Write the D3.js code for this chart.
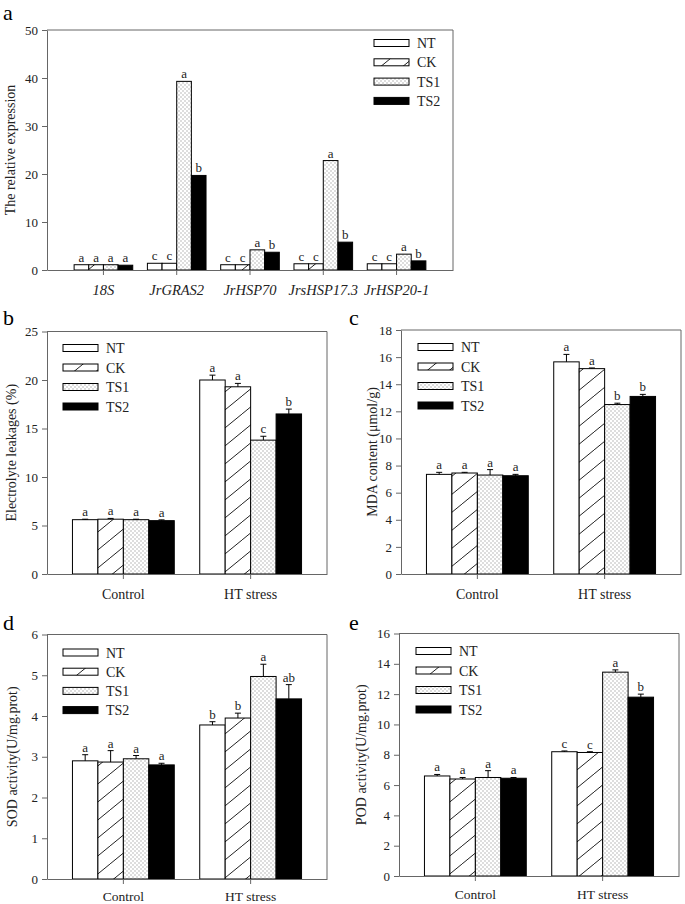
<!DOCTYPE html>
<html><head><meta charset="utf-8">
<script src="https://cdn.jsdelivr.net/npm/d3@7"></script>
<style>body{margin:0;background:#fff} svg{display:block}</style>
</head><body>
<svg id="chart" width="685" height="904"></svg>
<script>
// ---------- data ----------
const treatments = ["NT", "CK", "TS1", "TS2"];
const genes = ["18S", "JrGRAS2", "JrHSP70", "JrsHSP17.3", "JrHSP20-1"];
const conditions = ["Control", "HT stress"];

// a: relative expression
const exprNT  = [1.1, 1.4, 1.1, 1.3, 1.3];
const exprCK  = [1.1, 1.4, 1.1, 1.3, 1.3];
const exprTS1 = [1.1, 39.3, 4.2, 22.8, 3.3];
const exprTS2 = [1.0, 19.7, 3.7, 5.8, 1.9];
const exprLetNT  = ["a", "c", "c", "c", "c"];
const exprLetCK  = ["a", "c", "c", "c", "c"];
const exprLetTS1 = ["a", "a", "a", "a", "a"];
const exprLetTS2 = ["a", "b", "b", "b", "b"];

// b: electrolyte leakage
const elNT  = [5.6, 20.0], elNTErr  = [0.05, 0.5];
const elCK  = [5.65, 19.3], elCKErr = [0.08, 0.35];
const elTS1 = [5.6, 13.8], elTS1Err = [0.05, 0.4];
const elTS2 = [5.5, 16.5], elTS2Err = [0.08, 0.5];
const elLetNT = ["a", "a"], elLetCK = ["a", "a"], elLetTS1 = ["a", "c"], elLetTS2 = ["a", "b"];

// c: MDA content
const mdaNT  = [7.35, 15.65], mdaNTErr  = [0.15, 0.55];
const mdaCK  = [7.45, 15.15], mdaCKErr  = [0.05, 0.05];
const mdaTS1 = [7.3, 12.5],   mdaTS1Err = [0.4, 0.1];
const mdaTS2 = [7.25, 13.1],  mdaTS2Err = [0.1, 0.15];
const mdaLetNT = ["a", "a"], mdaLetCK = ["a", "a"], mdaLetTS1 = ["a", "b"], mdaLetTS2 = ["a", "b"];

// d: SOD activity
const sodNT  = [2.9, 3.78],  sodNTErr  = [0.15, 0.08];
const sodCK  = [2.87, 3.95], sodCKErr  = [0.28, 0.12];
const sodTS1 = [2.95, 4.97], sodTS1Err = [0.08, 0.3];
const sodTS2 = [2.8, 4.42],  sodTS2Err = [0.04, 0.35];
const sodLetNT = ["a", "b"], sodLetCK = ["a", "b"], sodLetTS1 = ["a", "a"], sodLetTS2 = ["a", "ab"];

// e: POD activity
const podNT  = [6.6, 8.2],   podNTErr  = [0.1, 0.05];
const podCK  = [6.4, 8.15],  podCKErr  = [0.1, 0.05];
const podTS1 = [6.5, 13.45], podTS1Err = [0.45, 0.15];
const podTS2 = [6.45, 11.8], podTS2Err = [0.05, 0.2];
const podLetNT = ["a", "c"], podLetCK = ["a", "c"], podLetTS1 = ["a", "a"], podLetTS2 = ["a", "b"];

// ---------- drawing ----------
const svg = d3.select("#chart");
const defs = svg.append("defs");
const serif = "'Liberation Serif','Times New Roman',serif";
const axisCol = "#666";
const textCol = "#222";

const hatch = defs.append("pattern").attr("id", "hatch")
  .attr("patternUnits", "userSpaceOnUse").attr("width", 22).attr("height", 18);
hatch.append("rect").attr("width", 22).attr("height", 18).attr("fill", "#fff");
hatch.append("path").attr("d", "M-11,27L33,-9").attr("stroke", "#222").attr("stroke-width", 1);

const dots = defs.append("pattern").attr("id", "dots")
  .attr("patternUnits", "userSpaceOnUse").attr("width", 4).attr("height", 4);
dots.append("rect").attr("width", 4).attr("height", 4).attr("fill", "#fff");
dots.append("rect").attr("x", 0.5).attr("y", 0.5).attr("width", 1).attr("height", 1).attr("fill", "#777");
dots.append("rect").attr("x", 2.5).attr("y", 2.5).attr("width", 1).attr("height", 1).attr("fill", "#777");

const fills = {NT: "#fff", CK: "url(#hatch)", TS1: "url(#dots)", TS2: "#000"};

function drawPanel(cfg) {
  const g = svg.append("g");
  const x0 = d3.scaleBand().domain(cfg.cats).range([cfg.left, cfg.right])
    .paddingInner(cfg.pi).paddingOuter(cfg.po);
  const x1 = d3.scaleBand().domain(treatments).range([0, x0.bandwidth()]);
  const y = d3.scaleLinear().domain([0, cfg.yMax]).range([cfg.bottom, cfg.top]);

  // frame top/right
  g.append("line").attr("x1", cfg.left).attr("x2", cfg.right).attr("y1", cfg.top).attr("y2", cfg.top)
    .attr("stroke", axisCol);
  g.append("line").attr("x1", cfg.right).attr("x2", cfg.right).attr("y1", cfg.top).attr("y2", cfg.bottom)
    .attr("stroke", axisCol);

  // bars
  treatments.forEach((t, j) => {
    const vals = cfg.series[j];
    const errs = cfg.errs ? cfg.errs[j] : null;
    const lets = cfg.letters[j];
    cfg.cats.forEach((c, i) => {
      const v = vals[i];
      const bx = x0(c) + x1(t);
      const bw = x1.bandwidth();
      g.append("rect").attr("x", bx).attr("y", y(v)).attr("width", bw)
        .attr("height", y(0) - y(v)).attr("fill", fills[t])
        .attr("stroke", "#000").attr("stroke-width", 1);
      const cx = bx + bw / 2;
      let topV = v;
      if (errs) {
        const e = errs[i];
        topV = v + e;
        g.append("line").attr("x1", cx).attr("x2", cx).attr("y1", y(v)).attr("y2", y(v + e))
          .attr("stroke", "#000");
        g.append("line").attr("x1", cx - 3).attr("x2", cx + 3).attr("y1", y(v + e)).attr("y2", y(v + e))
          .attr("stroke", "#000");
      }
      g.append("text").attr("x", cx).attr("y", y(topV) - 3)
        .attr("text-anchor", "middle").attr("font-family", serif).attr("font-size", 13)
        .attr("fill", textCol).text(lets[i]);
    });
  });

  // axes
  const ya = g.append("g").attr("transform", `translate(${cfg.left},0)`)
    .call(d3.axisLeft(y).tickValues(d3.range(0, cfg.yMax + 1e-9, cfg.yStep))
      .tickFormat(d3.format("d")).tickSize(5).tickSizeOuter(0).tickPadding(4));
  ya.selectAll("path,line").attr("stroke", axisCol);
  ya.selectAll("text").attr("font-family", serif).attr("font-size", 13).attr("fill", textCol);

  const xa = g.append("g").attr("transform", `translate(0,${cfg.bottom})`)
    .call(d3.axisBottom(x0).tickSize(5).tickSizeOuter(0).tickPadding(cfg.xPad));
  xa.selectAll("path,line").attr("stroke", axisCol);
  xa.selectAll("text").attr("font-family", serif).attr("font-size", cfg.xFont)
    .attr("font-style", cfg.italic ? "italic" : "normal").attr("fill", textCol);

  // y label
  g.append("text").attr("transform", `translate(${cfg.ylabelX},${(cfg.top + cfg.bottom) / 2}) rotate(-90)`)
    .attr("text-anchor", "middle").attr("dominant-baseline", "central")
    .attr("font-family", serif).attr("font-size", 14).attr("fill", textCol).text(cfg.ylabel);

  // panel letter
  g.append("text").attr("x", cfg.letterX).attr("y", cfg.letterY)
    .attr("font-family", serif).attr("font-size", 22).attr("fill", "#000").text(cfg.panel);

  // legend
  treatments.forEach((t, k) => {
    const ly = cfg.legY + k * cfg.legDy;
    g.append("rect").attr("x", cfg.legX).attr("y", ly - 3.5).attr("width", 35).attr("height", 7)
      .attr("fill", fills[t]).attr("stroke", "#000");
    g.append("text").attr("x", cfg.legX + 43).attr("y", ly + 5)
      .attr("font-family", serif).attr("font-size", 14).attr("fill", textCol).text(t);
  });
}

drawPanel({cats: genes, left: 47, right: 453, top: 30, bottom: 270, pi: 0.2, po: 0.37,
  yMax: 50, yStep: 10, series: [exprNT, exprCK, exprTS1, exprTS2], errs: null,
  letters: [exprLetNT, exprLetCK, exprLetTS1, exprLetTS2], xFont: 14.5, italic: true, xPad: 10,
  ylabel: "The relative expression", ylabelX: 10, panel: "a", letterX: 3, letterY: 20,
  legX: 374, legY: 43, legDy: 19.3});

drawPanel({cats: conditions, left: 47, right: 327, top: 331.5, bottom: 574, pi: 0.2, po: 0.2,
  yMax: 25, yStep: 5, series: [elNT, elCK, elTS1, elTS2], errs: [elNTErr, elCKErr, elTS1Err, elTS2Err],
  letters: [elLetNT, elLetCK, elLetTS1, elLetTS2], xFont: 14, italic: false, xPad: 10,
  ylabel: "Electrolyte leakages (%)", ylabelX: 11, panel: "b", letterX: 3, letterY: 325,
  legX: 63, legY: 348, legDy: 19.5});

drawPanel({cats: conditions, left: 401, right: 681, top: 330, bottom: 574, pi: 0.2, po: 0.2,
  yMax: 18, yStep: 2, series: [mdaNT, mdaCK, mdaTS1, mdaTS2], errs: [mdaNTErr, mdaCKErr, mdaTS1Err, mdaTS2Err],
  letters: [mdaLetNT, mdaLetCK, mdaLetTS1, mdaLetTS2], xFont: 14, italic: false, xPad: 10,
  ylabel: "MDA content (\u03bcmol/g)", ylabelX: 372, panel: "c", letterX: 349, letterY: 325,
  legX: 418, legY: 347, legDy: 19.5});

drawPanel({cats: conditions, left: 47, right: 327, top: 634.5, bottom: 879, pi: 0.2, po: 0.2,
  yMax: 6, yStep: 1, series: [sodNT, sodCK, sodTS1, sodTS2], errs: [sodNTErr, sodCKErr, sodTS1Err, sodTS2Err],
  letters: [sodLetNT, sodLetCK, sodLetTS1, sodLetTS2], xFont: 13.5, italic: false, xPad: 7,
  ylabel: "SOD activity(U/mg.prot)", ylabelX: 12, panel: "d", letterX: 3, letterY: 630,
  legX: 63, legY: 652.5, legDy: 19.2});

drawPanel({cats: conditions, left: 399, right: 679, top: 633.5, bottom: 876, pi: 0.2, po: 0.2,
  yMax: 16, yStep: 2, series: [podNT, podCK, podTS1, podTS2], errs: [podNTErr, podCKErr, podTS1Err, podTS2Err],
  letters: [podLetNT, podLetCK, podLetTS1, podLetTS2], xFont: 13.5, italic: false, xPad: 8,
  ylabel: "POD activity(U/mg.prot)", ylabelX: 361, panel: "e", letterX: 349, letterY: 630,
  legX: 416, legY: 651, legDy: 19.5});
</script>
</body></html>
